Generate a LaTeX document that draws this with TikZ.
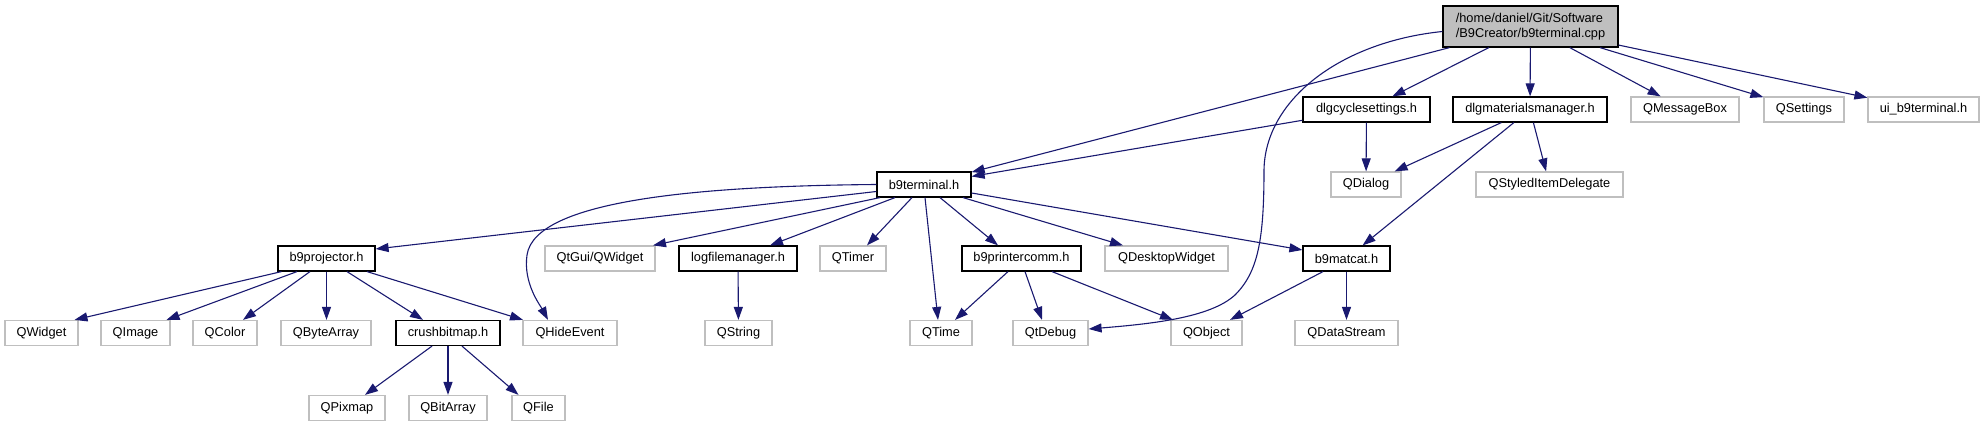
\documentclass[tikz,border=0pt]{standalone}
\usepackage{fontspec}
\setmainfont{Liberation Sans}
\usetikzlibrary{arrows.meta}
\definecolor{edgeblue}{HTML}{191970}
\definecolor{extgray}{HTML}{BFBFBF}
\begin{document}
\begin{tikzpicture}[x=1pt,y=-1pt,
  box/.style={rectangle, inner sep=0pt, minimum height=25pt, line width=1.2pt,
    font=\fontsize{12.8}{14.4}\selectfont, text=black},
  docbox/.style={box, draw=black, fill=white},
  extbox/.style={box, draw=extgray, fill=white},
  rootbox/.style={box, draw=black, fill=extgray, minimum height=41pt, align=left},
  dep/.style={draw=edgeblue, line width=1.1pt, -{Triangle[length=13pt,width=9pt]}, color=edgeblue}
]
\useasboundingbox (0,0) rectangle (1984,427);

% row 0
\node[rootbox, minimum width=175pt] (root) at (1530.5,26.5) {/home/daniel/Git/Software\\/B9Creator/b9terminal.cpp};
% row 1
\node[docbox, minimum width=127pt] (dlgcyc) at (1366.5,109.5) {dlgcyclesettings.h};
\node[docbox, minimum width=154pt] (dlgmat) at (1530,109.5) {dlgmaterialsmanager.h};
\node[extbox, minimum width=108pt] (qmsg) at (1685,109.5) {QMessageBox};
\node[extbox, minimum width=80pt] (qset) at (1804,109.5) {QSettings};
\node[extbox, minimum width=111pt] (ui) at (1923.5,109.5) {ui\_b9terminal.h};
% row 2
\node[docbox, minimum width=94pt] (bt) at (924,184.5) {b9terminal.h};
\node[extbox, minimum width=70pt] (qdlg) at (1366,184.5) {QDialog};
\node[extbox, minimum width=147pt] (qsid) at (1549.5,184.5) {QStyledItemDelegate};
% row 3
\node[docbox, minimum width=97pt] (proj) at (326.5,258.5) {b9projector.h};
\node[extbox, minimum width=110pt] (qtgui) at (600,258.5) {QtGui/QWidget};
\node[docbox, minimum width=118pt] (logf) at (738,258.5) {logfilemanager.h};
\node[extbox, minimum width=66pt] (qtimer) at (853,258.5) {QTimer};
\node[docbox, minimum width=119pt] (pcomm) at (1021.5,258.5) {b9printercomm.h};
\node[extbox, minimum width=123pt] (qdesk) at (1166.5,258.5) {QDesktopWidget};
\node[docbox, minimum width=87pt] (matcat) at (1346.5,258.5) {b9matcat.h};
% row 4
\node[extbox, minimum width=73pt] (qwidget) at (41.5,333) {QWidget};
\node[extbox, minimum width=69pt] (qimage) at (135.5,333) {QImage};
\node[extbox, minimum width=64pt] (qcolor) at (225,333) {QColor};
\node[extbox, minimum width=90pt] (qbytes) at (326,333) {QByteArray};
\node[docbox, minimum width=104pt] (crush) at (448,333) {crushbitmap.h};
\node[extbox, minimum width=94pt] (qhide) at (570,333) {QHideEvent};
\node[extbox, minimum width=67pt] (qstring) at (738.5,333) {QString};
\node[extbox, minimum width=62pt] (qtime) at (941,333) {QTime};
\node[extbox, minimum width=75pt] (qdebug) at (1050.5,333) {QtDebug};
\node[extbox, minimum width=71pt] (qobject) at (1206.5,333) {QObject};
\node[extbox, minimum width=103pt] (qdata) at (1346.5,333) {QDataStream};
% row 5
\node[extbox, minimum width=76pt] (qpix) at (347,408) {QPixmap};
\node[extbox, minimum width=78pt] (qbit) at (448,408) {QBitArray};
\node[extbox, minimum width=53pt] (qfile) at (538.5,408) {QFile};

% edges from root
\draw[dep] (root) -- (bt);
\draw[dep] (root) -- (dlgcyc);
\draw[dep] (root) -- (dlgmat);
\draw[dep] (root) -- (qmsg);
\draw[dep] (root) -- (qset);
\draw[dep] (root) -- (ui);
\draw[dep] ([yshift=-5pt]root.west) .. controls (1340,42) and (1265,100) .. (1264,170)
  .. controls (1264,240) and (1258,272) .. (1235,295)
  .. controls (1210,318) and (1150,324) .. ([yshift=4pt]qdebug.east);

% dlgcyclesettings
\draw[dep] (dlgcyc) -- (bt);
\draw[dep] (dlgcyc) -- (qdlg);
% dlgmaterialsmanager
\draw[dep] (dlgmat) -- (qdlg);
\draw[dep] (dlgmat) -- (qsid);
\draw[dep] (dlgmat) -- (matcat);

% b9terminal.h
\draw[dep] ([yshift=-7pt]bt.west) -- ([yshift=9.5pt]proj.east);
\draw[dep] (bt.west) .. controls (700,186) and (535,200) .. (527,255)
  .. controls (523,283) and (540,305) .. ([xshift=-22pt]qhide.north);
\draw[dep] ([xshift=-44pt]bt.south) -- ([xshift=53pt]qtgui.north);
\draw[dep] ([xshift=-29pt]bt.south) -- ([xshift=32pt]logf.north);
\draw[dep] ([xshift=-12pt]bt.south) -- ([xshift=14pt]qtimer.north);
\draw[dep] ([xshift=1pt]bt.south) -- ([xshift=-3pt]qtime.north);
\draw[dep] ([xshift=16pt]bt.south) -- ([xshift=-23.5pt]pcomm.north);
\draw[dep] ([xshift=39pt]bt.south) -- ([xshift=-43.5pt]qdesk.north);
\draw[dep] ([yshift=-8.5pt]bt.east) -- ([yshift=8.5pt]matcat.west);

% b9projector.h
\draw[dep] ([xshift=-45pt]proj.south) -- ([xshift=33pt]qwidget.north);
\draw[dep] ([xshift=-29.5pt]proj.south) -- ([xshift=31pt]qimage.north);
\draw[dep] ([xshift=-16.5pt]proj.south) -- ([xshift=18pt]qcolor.north);
\draw[dep] ([xshift=0pt]proj.south) -- ([xshift=0.5pt]qbytes.north);
\draw[dep] ([xshift=20.5pt]proj.south) -- ([xshift=-25pt]crush.north);
\draw[dep] ([xshift=40.5pt]proj.south) -- ([xshift=-47pt]qhide.north);

% crushbitmap.h
\draw[dep] ([xshift=-16pt]crush.south) -- ([xshift=18pt]qpix.north);
\draw[dep] (crush) -- (qbit);
\draw[dep] ([xshift=14pt]crush.south) -- ([xshift=-20pt]qfile.north);

% logfilemanager.h
\draw[dep] (logf) -- (qstring);

% b9printercomm.h
\draw[dep] ([xshift=-13.5pt]pcomm.south) -- ([xshift=14pt]qtime.north);
\draw[dep] ([xshift=3.5pt]pcomm.south) -- ([xshift=-8.5pt]qdebug.north);
\draw[dep] ([xshift=30.5pt]pcomm.south) -- ([xshift=-33.5pt]qobject.north);

% b9matcat.h
\draw[dep] ([xshift=-23.5pt]matcat.south) -- ([xshift=23.5pt]qobject.north);
\draw[dep] (matcat) -- (qdata);
\end{tikzpicture}
\end{document}
